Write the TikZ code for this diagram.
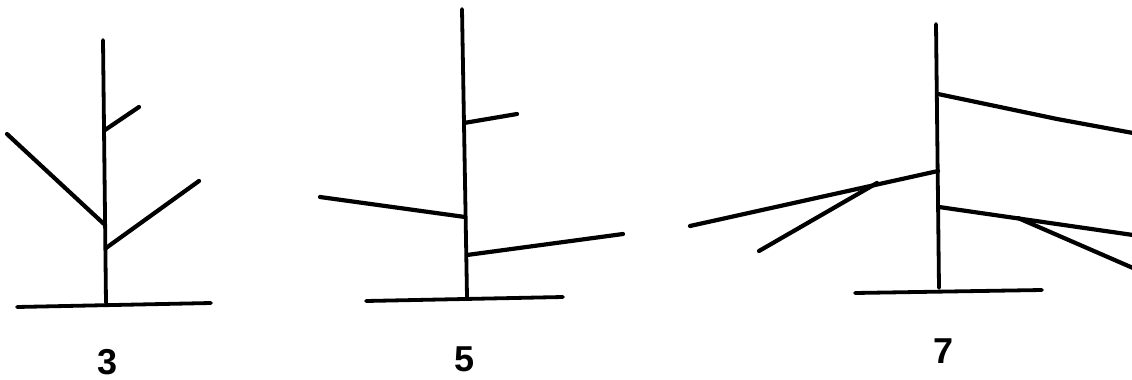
\documentclass[tikz,border=0pt]{standalone}
\usepackage{fontspec}
\setmainfont{Liberation Sans}
\begin{document}
\begin{tikzpicture}[x=1pt,y=-1pt,
  stem/.style={line width=3.8pt,line cap=round},
  twig/.style={line width=4.2pt,line cap=round},
  lbl/.style={font=\bfseries\fontsize{36}{38}\selectfont,inner sep=0pt}]
\useasboundingbox (0,0) rectangle (1132,380);
% figure 3
\draw[stem] (103,40) -- (106,303);
\draw[stem] (17,307) -- (211,303);
\draw[twig] (105,130) -- (139,107);
\draw[twig] (104,224) -- (7,134);
\draw[twig] (106,248) -- (199,181);
\node[lbl] (l3) at (108,362) {3};
% figure 5
\draw[stem] (462,9) -- (467,297);
\draw[stem] (366,301) -- (563,297);
\draw[twig] (464,123) -- (517,114);
\draw[twig] (465,217) -- (320,197);
\draw[twig] (467,255) -- (623,234);
\node[lbl] (l5) at (465,359) {5};
% figure 7
\draw[stem] (936,24) -- (939,288);
\draw[stem] (855,293) -- (1042,290);
\draw[twig] (938,94) -- (1057,119) -- (1133,133);
\draw[twig] (938,171) -- (690,226);
\draw[twig] (877,183) -- (759,251);
\draw[twig] (939,207) -- (1133,235);
\draw[twig] (1018,218) -- (1133,268);
\node[lbl] (l7) at (943,351) {7};
\end{tikzpicture}
\end{document}
